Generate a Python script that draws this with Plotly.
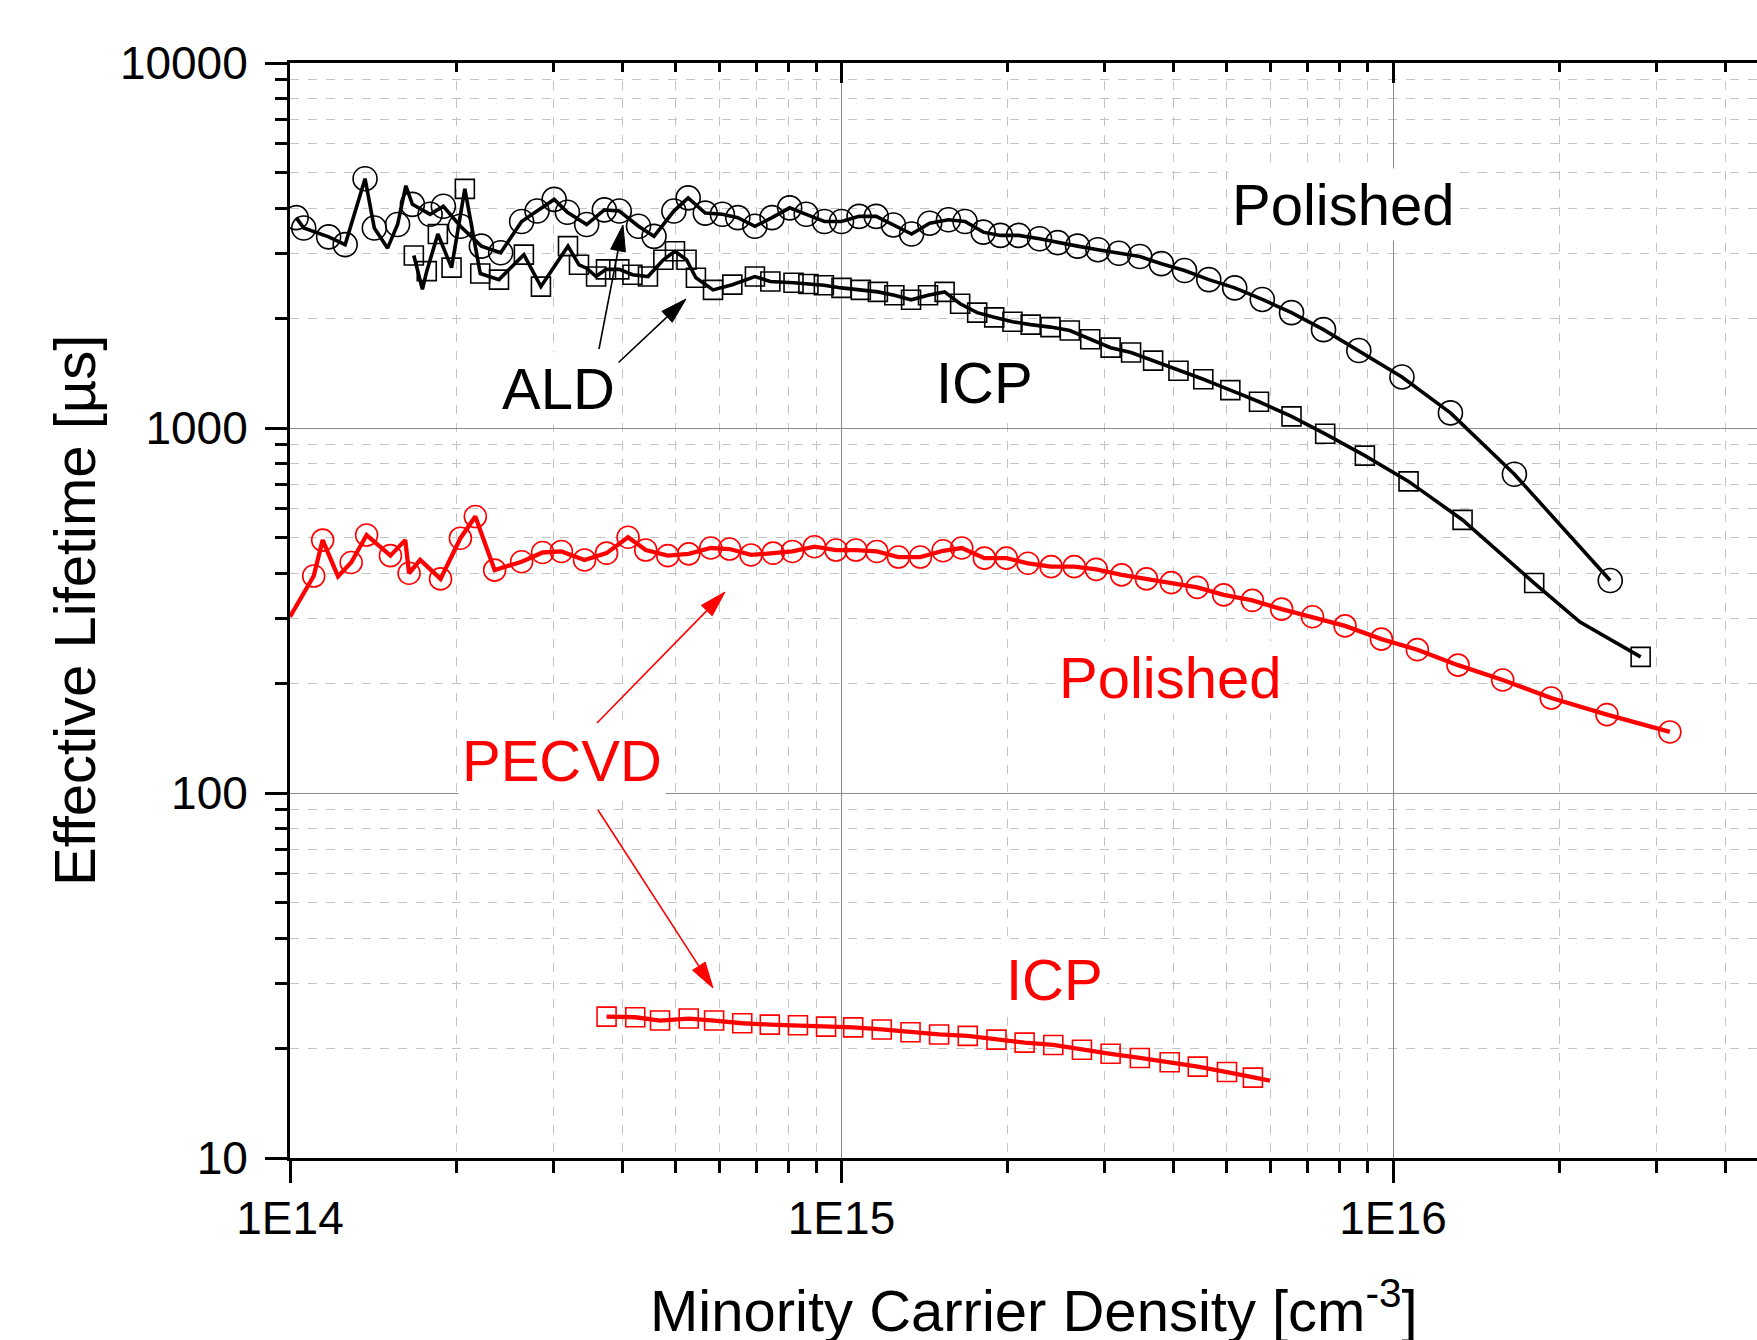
import math
import plotly.graph_objects as go

# ---------------- data ----------------
# ALD, polished (black circles)
ald_pol_x = [1.026e14, 1.059e14, 1.175e14, 1.259e14, 1.368e14, 1.422e14, 1.503e14, 1.567e14,
             1.622e14, 1.667e14, 1.795e14, 1.897e14, 2.037e14, 2.223e14, 2.410e14, 2.630e14,
             2.805e14, 3.013e14, 3.184e14, 3.451e14, 3.715e14, 3.954e14, 4.285e14, 4.571e14,
             4.966e14, 5.272e14, 5.662e14, 6.081e14, 6.486e14, 6.966e14, 7.482e14, 8.054e14,
             8.630e14, 9.311e14, 1.000e15, 1.076e15, 1.156e15, 1.242e15, 1.340e15, 1.445e15,
             1.563e15, 1.675e15, 1.807e15, 1.941e15, 2.094e15, 2.286e15, 2.466e15, 2.679e15,
             2.917e15, 3.184e15, 3.475e15, 3.802e15, 4.188e15, 4.634e15, 5.164e15, 5.794e15,
             6.546e15, 7.482e15, 8.670e15, 1.038e16, 1.271e16, 1.660e16, 2.477e16]
ald_pol_y = [3770, 3530, 3340, 3180, 4820, 3530, 3110, 3610,
             4610, 4100, 3850, 4050, 3570, 3150, 3020, 3680,
             3930, 4230, 3900, 3610, 3960, 3930, 3570, 3350,
             3930, 4270, 3880, 3850, 3770, 3570, 3770, 4010,
             3850, 3680, 3680, 3800, 3800, 3600, 3400, 3640,
             3720, 3680, 3440, 3370, 3370, 3300, 3220, 3150,
             3080, 3010, 2950, 2820, 2700, 2550, 2420, 2250,
             2070, 1860, 1630, 1380, 1100, 747, 382]
ald_pol_mark = [1, 1, 1, 1, 1, 1, 0, 1,
                0, 1, 1, 1, 1, 1, 1, 1,
                1, 1, 1, 1, 1, 1, 1, 1,
                1, 1, 1, 1, 1, 1, 1, 1,
                1, 1, 1, 1, 1, 1, 1, 1,
                1, 1, 1, 1, 1, 1, 1, 1,
                1, 1, 1, 1, 1, 1, 1, 1,
                1, 1, 1, 1, 1, 1, 1]

# ALD, ICP (black squares)
ald_icp_x = [1.677e14, 1.738e14, 1.770e14, 1.854e14, 1.963e14, 2.075e14, 2.213e14, 2.393e14,
             2.655e14, 2.851e14, 3.192e14, 3.342e14, 3.451e14, 3.589e14, 3.741e14, 3.954e14,
             4.178e14, 4.457e14, 4.753e14, 4.989e14, 5.236e14, 5.445e14, 5.848e14, 6.339e14,
             6.966e14, 7.430e14, 8.185e14, 8.710e14, 9.290e14, 1.000e15, 1.084e15, 1.164e15,
             1.247e15, 1.337e15, 1.435e15, 1.538e15, 1.641e15, 1.762e15, 1.892e15, 2.042e15,
             2.203e15, 2.393e15, 2.594e15, 2.825e15, 3.076e15, 3.350e15, 3.673e15, 4.083e15,
             4.529e15, 5.070e15, 5.715e15, 6.546e15, 7.534e15, 8.892e15, 1.067e16, 1.337e16,
             1.803e16, 2.183e16, 2.812e16]
ald_icp_y = [2970, 2400, 2690, 3400, 2750, 4520, 2650, 2550,
             2985, 2440, 3150, 2800, 2740, 2600, 2720, 2720,
             2630, 2600, 2890, 3050, 2890, 2580, 2390, 2470,
             2600, 2520, 2500, 2480, 2460, 2420, 2390, 2360,
             2310, 2245, 2310, 2360, 2190, 2070, 2010, 1955,
             1920, 1890, 1850, 1750, 1660, 1610, 1530, 1435,
             1360, 1270, 1180, 1076, 964, 840, 714, 560,
             376, 294, 236]
ald_icp_mark = [1, 0, 1, 1, 1, 1, 1, 1,
                1, 1, 1, 1, 0, 1, 1, 1,
                1, 1, 1, 1, 1, 1, 1, 1,
                1, 1, 1, 1, 1, 1, 1, 1,
                1, 1, 1, 1, 1, 1, 1, 1,
                1, 1, 1, 1, 1, 1, 1, 1,
                1, 1, 1, 1, 1, 1, 1, 1,
                1, 0, 1]

# PECVD, polished (red circles)
pec_pol_x = [1.000e14, 1.104e14, 1.146e14, 1.222e14, 1.291e14, 1.377e14, 1.521e14, 1.618e14,
             1.644e14, 1.722e14, 1.875e14, 2.037e14, 2.168e14, 2.350e14, 2.630e14, 2.871e14,
             3.105e14, 3.420e14, 3.750e14, 4.102e14, 4.416e14, 4.842e14, 5.284e14, 5.794e14,
             6.266e14, 6.855e14, 7.516e14, 8.147e14, 8.933e14, 9.772e14, 1.062e15, 1.159e15,
             1.268e15, 1.390e15, 1.528e15, 1.652e15, 1.816e15, 1.991e15, 2.178e15, 2.399e15,
             2.642e15, 2.897e15, 3.221e15, 3.573e15, 3.963e15, 4.416e15, 4.932e15, 5.559e15,
             6.281e15, 7.145e15, 8.185e15, 9.528e15, 1.107e16, 1.312e16, 1.581e16, 1.936e16,
             2.443e16, 3.177e16]
pec_pol_y = [304, 393, 493, 392, 428, 509, 447, 493,
             400, 435, 386, 499, 572, 408, 430, 456,
             459, 435, 454, 502, 463, 447, 452, 469,
             466, 449, 454, 459, 473, 463, 463, 459,
             443, 443, 461, 469, 440, 440, 426, 417,
             417, 410, 396, 386, 377, 366, 349, 337,
             319, 304, 287, 264, 247, 224, 204, 182,
             164, 147]
pec_pol_mark = [0, 1, 1, 0, 1, 1, 1, 0,
                1, 0, 1, 1, 1, 1, 1, 1,
                1, 1, 1, 1, 1, 1, 1, 1,
                1, 1, 1, 1, 1, 1, 1, 1,
                1, 1, 1, 1, 1, 1, 1, 1,
                1, 1, 1, 1, 1, 1, 1, 1,
                1, 1, 1, 1, 1, 1, 1, 1,
                1, 1]

# PECVD, ICP (red squares)
pec_icp_x = [3.750e14, 4.227e14, 4.688e14, 5.284e14, 5.875e14, 6.607e14, 7.413e14, 8.337e14,
             9.376e14, 1.050e15, 1.183e15, 1.334e15, 1.503e15, 1.694e15, 1.910e15, 2.148e15,
             2.421e15, 2.729e15, 3.076e15, 3.475e15, 3.936e15, 4.426e15, 5.000e15, 5.572e15,
             5.984e15]
pec_icp_y = [24.4, 24.3, 23.8, 24.1, 23.8, 23.4, 23.2, 23.1,
             22.9, 22.8, 22.5, 22.1, 21.8, 21.6, 21.1, 20.7,
             20.4, 19.8, 19.3, 18.8, 18.3, 17.8, 17.2, 16.6,
             16.3]
pec_icp_mark = [1] * 24 + [0]

x_tickvals = [1e14, 1e15, 1e16]
x_ticktext = ["1E14", "1E15", "1E16"]
y_tickvals = [10, 100, 1000, 10000]
y_ticktext = ["10", "100", "1000", "10000"]

x_title = "Minority Carrier Density [cm<sup>-3</sup>]"
y_title = "Effective Lifetime [µs]"

# ---------------- layout constants ----------------
FIG_W, FIG_H = 1757, 1340
ML, MR, MT, MB = 290, 0, 63, 182
XR = [14.0, 16.66]
YR = [1.0, 4.0]
PW = FIG_W - ML - MR
PH = FIG_H - MT - MB
FONT = "Liberation Sans, Arial, sans-serif"
RED = "#ff0000"


def px_to_x(px):
    return XR[0] + (px - ML) / PW * (XR[1] - XR[0])


def py_to_y(py):
    return YR[1] - (py - MT) / PH * (YR[1] - YR[0])


def paper_x(px):
    return (px - ML) / PW


def paper_y(py):
    return (FIG_H - MB - py) / PH


fig = go.Figure()


def add_series(xs, ys, marks, color, symbol, size, lw):
    fig.add_trace(go.Scatter(x=xs, y=ys, mode="lines",
                             line=dict(color=color, width=lw),
                             showlegend=False, hoverinfo="skip"))
    mx = [x for x, m in zip(xs, marks) if m]
    my = [y for y, m in zip(ys, marks) if m]
    fig.add_trace(go.Scatter(x=mx, y=my, mode="markers",
                             marker=dict(symbol=symbol, size=size, color=color,
                                         line=dict(color=color, width=1.6)),
                             showlegend=False))


add_series(ald_pol_x, ald_pol_y, ald_pol_mark, "black", "circle-open", 24, 3.6)
add_series(ald_icp_x, ald_icp_y, ald_icp_mark, "black", "square-open", 19, 3.6)
add_series(pec_pol_x, pec_pol_y, pec_pol_mark, RED, "circle-open", 22, 4.3)
add_series(pec_icp_x, pec_icp_y, pec_icp_mark, RED, "square-open", 19, 4.3)

# invisible trace to carry the top axis
fig.add_trace(go.Scatter(x=[1e15], y=[100], xaxis="x2", mode="markers",
                         marker=dict(opacity=0), showlegend=False, hoverinfo="skip"))

minor_x = [m * 10 ** e for e in range(14, 17) for m in range(2, 10)]
minor_y = [m * 10 ** e for e in range(1, 4) for m in range(2, 10)]

common_axis = dict(showline=True, linecolor="black", linewidth=3, zeroline=False)

fig.update_layout(
    width=FIG_W, height=FIG_H,
    margin=dict(l=ML, r=MR, t=MT, b=MB, pad=0),
    paper_bgcolor="white", plot_bgcolor="white",
    font=dict(family=FONT, color="black", size=46),
    xaxis=dict(type="log", range=XR, tickvals=x_tickvals, ticktext=x_ticktext,
               ticks="outside", ticklen=22, tickwidth=2.5, tickcolor="black",
               tickfont=dict(size=46, family=FONT), ticklabelstandoff=-4,
               showgrid=True, gridcolor="#8c8c8c", gridwidth=1.2,
               minor=dict(tickvals=minor_x, ticks="outside", ticklen=12, tickwidth=2.5,
                          tickcolor="black", showgrid=True, gridcolor="#c4c4c4",
                          griddash="dash", gridwidth=1),
               **common_axis),
    xaxis2=dict(type="log", range=XR, overlaying="x", side="top", matches="x",
                tickvals=x_tickvals, showticklabels=False,
                ticks="inside", ticklen=20, tickwidth=2.5, tickcolor="black",
                showgrid=False,
                minor=dict(tickvals=minor_x, ticks="inside", ticklen=9, tickwidth=2.5,
                           tickcolor="black", showgrid=False),
                **common_axis),
    yaxis=dict(type="log", range=YR, tickvals=y_tickvals, ticktext=y_ticktext,
               ticks="outside", ticklen=22, tickwidth=2.5, tickcolor="black",
               tickfont=dict(size=46, family=FONT), ticklabelstandoff=8,
               showgrid=True, gridcolor="#8c8c8c", gridwidth=1.2,
               minor=dict(tickvals=minor_y, ticks="outside", ticklen=12, tickwidth=2.5,
                          tickcolor="black", showgrid=True, gridcolor="#c4c4c4",
                          griddash="dash", gridwidth=1),
               **common_axis),
)

annotations = []

# axis titles
annotations.append(dict(text=x_title, xref="paper", yref="paper",
                        x=paper_x(1034), y=paper_y(1306), xanchor="center", yanchor="middle",
                        showarrow=False, font=dict(size=58, family=FONT, color="black")))
annotations.append(dict(text=y_title, xref="paper", yref="paper",
                        x=paper_x(74), y=paper_y(610), xanchor="center", yanchor="middle",
                        textangle=-90, showarrow=False,
                        font=dict(size=58, family=FONT, color="black")))

# in-plot labels (centre pixel positions)
labels = [
    ("Polished", 1343, 204, "black"),
    ("ICP", 984, 382, "black"),
    ("ALD", 558, 388, "black"),
    ("Polished", 1170, 677, RED),
    ("PECVD", 562, 760, RED),
    ("ICP", 1054, 979, RED),
]
for txt, cx, cy, col in labels:
    annotations.append(dict(text=txt, xref="x", yref="y", x=px_to_x(cx), y=py_to_y(cy),
                            xanchor="center", yanchor="middle", showarrow=False,
                            bgcolor="white", borderpad=3,
                            font=dict(size=58, family=FONT, color=col)))

fig.update_layout(annotations=annotations)

# arrows drawn as shapes: (tail px, head px, colour)
arrows = [
    ((599, 349), (623, 225), "black"),
    ((618, 363), (686, 299), "black"),
    ((597, 723), (725, 592), RED),
    ((598, 810), (713, 988), RED),
]
HEAD_L, HEAD_W = 26, 7.5
shapes = []
for (tx, ty), (hx, hy), col in arrows:
    dx, dy = hx - tx, hy - ty
    n = math.hypot(dx, dy)
    ux, uy = dx / n, dy / n
    bx, by = hx - HEAD_L * ux, hy - HEAD_L * uy
    px1, py1 = bx - HEAD_W * uy, by + HEAD_W * ux
    px2, py2 = bx + HEAD_W * uy, by - HEAD_W * ux
    shapes.append(dict(type="line", xref="paper", yref="paper",
                       x0=paper_x(tx), y0=paper_y(ty), x1=paper_x(bx), y1=paper_y(by),
                       line=dict(color=col, width=1.6)))
    path = "M {:.5f},{:.5f} L {:.5f},{:.5f} L {:.5f},{:.5f} Z".format(
        paper_x(hx), paper_y(hy), paper_x(px1), paper_y(py1), paper_x(px2), paper_y(py2))
    shapes.append(dict(type="path", xref="paper", yref="paper", path=path,
                       fillcolor=col, line=dict(color=col, width=1)))
fig.update_layout(shapes=shapes)

fig.write_html("out.html")
